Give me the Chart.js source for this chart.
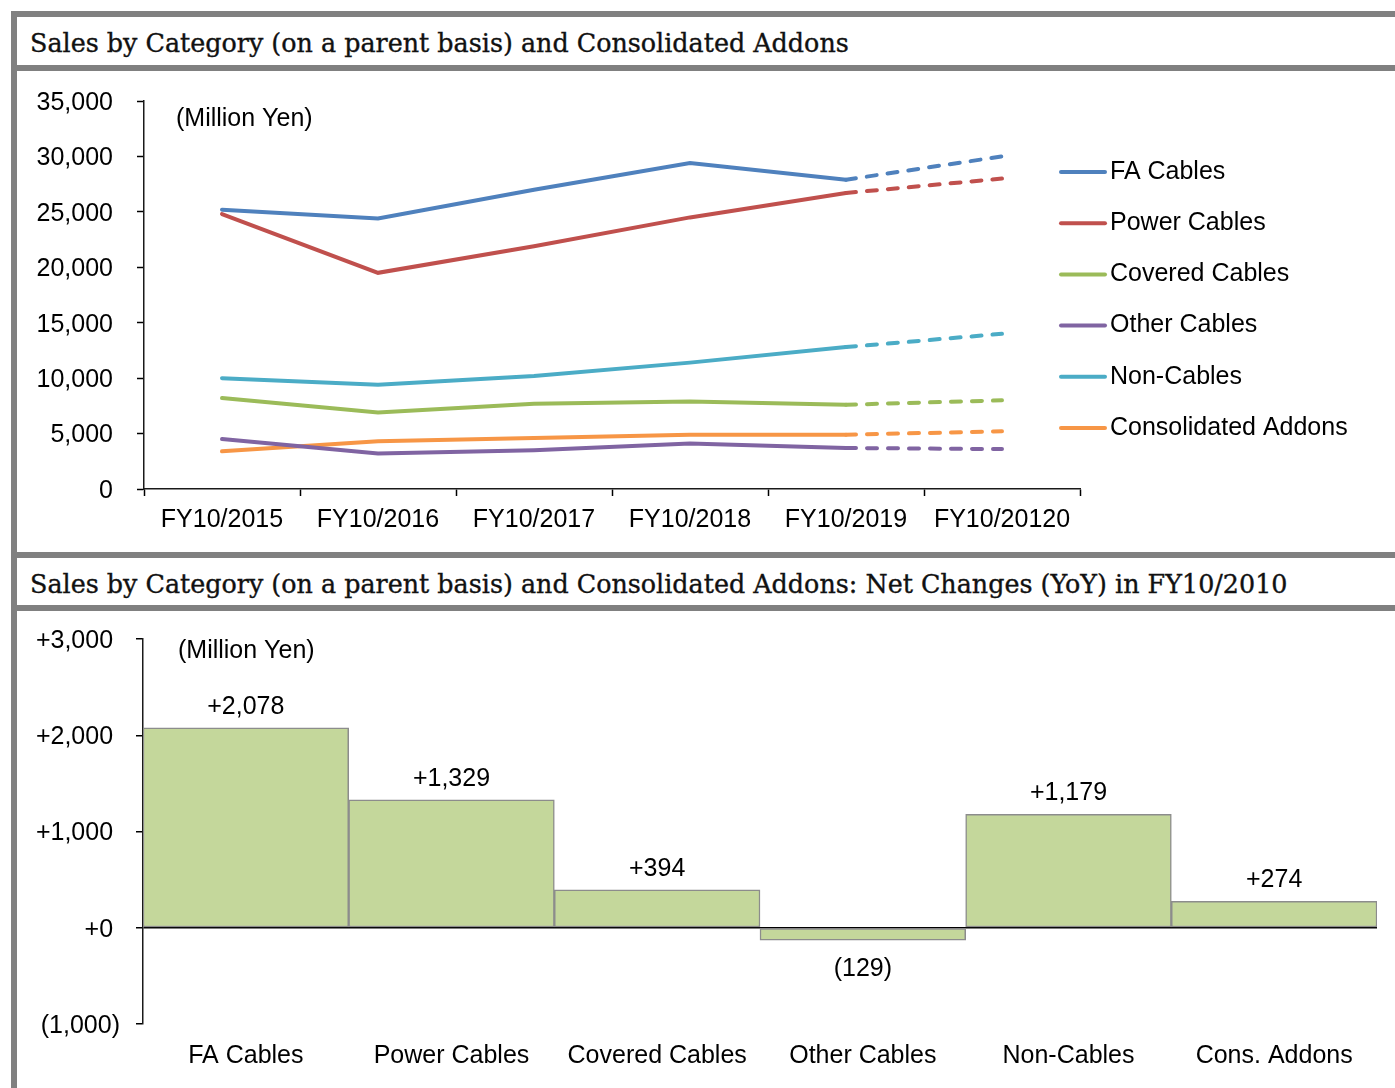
<!DOCTYPE html>
<html>
<head>
<meta charset="utf-8">
<script src="https://cdn.jsdelivr.net/npm/chart.js@4.4.1/dist/chart.umd.min.js"></script>
<style>
  html, body { margin:0; padding:0; background:#fff; }
  body { width:1395px; height:1088px; position:relative; overflow:hidden; }
  .bar { position:absolute; background:#808080; }
  .title { position:absolute; left:30px; font-family:"DejaVu Serif", "Liberation Serif", serif; font-size:25.4px; color:#111; white-space:nowrap; line-height:30px; -webkit-text-stroke:0.35px #111; }
  canvas { position:absolute; left:17px; }
</style>
</head>
<body>
  <div class="bar" style="left:11px;top:11px;width:1384px;height:6px"></div>
  <div class="bar" style="left:11px;top:11px;width:6px;height:1077px"></div>
  <div class="bar" style="left:17px;top:65px;width:1378px;height:6px"></div>
  <div class="bar" style="left:17px;top:552px;width:1378px;height:6px"></div>
  <div class="bar" style="left:17px;top:605px;width:1378px;height:6px"></div>

  <div class="title" id="t1" style="top:28px">Sales by Category (on a parent basis) and Consolidated Addons</div>
  <div class="title" id="t2" style="top:569px">Sales by Category (on a parent basis) and Consolidated Addons: Net Changes (YoY) in FY10/2010</div>

  <canvas id="lineChart" width="1378" height="481" style="top:71px"></canvas>
  <canvas id="barChart" width="1378" height="477" style="top:611px"></canvas>

<script>
  "use strict";

  // top chart: sales by category (million yen)
  const years = ["FY10/2015","FY10/2016","FY10/2017","FY10/2018","FY10/2019","FY10/20120"];
  const faCables      = [25200, 24400, 27000, 29400, 27900, 30000];
  const powerCables   = [24800, 19500, 21900, 24500, 26700, 28000];
  const coveredCables = [8200, 6900, 7700, 7900, 7600, 8000];
  const otherCables   = [4500, 3200, 3500, 4100, 3700, 3600];
  const nonCables     = [10000, 9400, 10200, 11400, 12800, 14000];
  const consAddons    = [3400, 4300, 4600, 4900, 4900, 5200];
  const seriesNames   = ["FA Cables","Power Cables","Covered Cables","Other Cables","Non-Cables","Consolidated Addons"];
  const seriesColors  = ["#4F81BD","#C0504D","#9BBB59","#8064A2","#4BACC6","#F79646"];

  // bottom chart: net changes (yoy)
  const changeCats   = ["FA Cables","Power Cables","Covered Cables","Other Cables","Non-Cables","Cons. Addons"];
  const changeValues = [2078, 1329, 394, -129, 1179, 274];

  const FONT = "'Liberation Sans', Arial, sans-serif";
  const fmt = (v)=> Math.abs(v).toLocaleString("en-US");
  const signed = (v)=> v < 0 ? "(" + fmt(v) + ")" : "+" + fmt(v);

  Chart.defaults.font.family = FONT;
  Chart.defaults.font.size = 25;
  Chart.defaults.color = "#000";

  const lastIdx = years.length - 1;
  const seriesData = [faCables, powerCables, coveredCables, otherCables, nonCables, consAddons];

  // fixed axis width, and no extra label overflow padding (layout padding decides the plot box)
  const fixWidth = (w)=> (s)=>{ s.width = w; s.paddingTop = 0; s.paddingBottom = 0; };

  const lineExtras = {
    id: "lineExtras",
    afterDraw(chart){
      const {ctx, chartArea} = chart;
      ctx.save();
      ctx.font = "25px " + FONT;
      ctx.fillStyle = "#000";
      ctx.textBaseline = "middle";
      ctx.fillText("(Million Yen)", 159, 48);
      // legend
      const x0 = chartArea.right - 19;
      const midY = (chartArea.top + chartArea.bottom) / 2 + 5;
      seriesNames.forEach((name, i)=>{
        const y = midY + (i - 2.5) * 51.2;
        ctx.strokeStyle = seriesColors[i];
        ctx.lineWidth = 4;
        ctx.lineCap = "round";
        ctx.beginPath();
        ctx.moveTo(x0, y);
        ctx.lineTo(x0 + 44, y);
        ctx.stroke();
        ctx.fillText(name, x0 + 49, y);
      });
      ctx.restore();
    }
  };

  new Chart(document.getElementById("lineChart"), {
    type: "line",
    data: {
      labels: years,
      datasets: seriesData.map((d, i)=>({
        label: seriesNames[i],
        data: d,
        borderColor: seriesColors[i],
        backgroundColor: seriesColors[i],
        borderWidth: 4,
        borderCapStyle: "round",
        pointRadius: 0,
        tension: 0,
        segment: { borderDash: (c)=> c.p1DataIndex === lastIdx ? [10, 11] : undefined }
      }))
    },
    options: {
      responsive: false,
      animation: false,
      devicePixelRatio: 1,
      layout: { padding: { left: 0, top: 30, right: 315, bottom: 13 } },
      plugins: { legend: { display: false }, tooltip: { enabled: false } },
      scales: {
        x: {
          offset: true,
          grid: { offset: true, drawOnChartArea: false, color: "#000", tickLength: 7, tickWidth: 1.5 },
          border: { color: "#1a1a1a", width: 1.5 },
          ticks: { padding: 9, maxRotation: 0, autoSkip: false },
          afterFit(s){ s.height = 50; }
        },
        y: {
          min: 0, max: 35000,
          grid: { drawOnChartArea: false, color: "#000", tickLength: 7, tickWidth: 1.5 },
          border: { color: "#1a1a1a", width: 1.5 },
          ticks: { stepSize: 5000, padding: 24, labelOffset: 2, callback: (v)=> fmt(v) },
          afterFit: fixWidth(127)
        }
      }
    },
    plugins: [lineExtras]
  });

  const barExtras = {
    id: "barExtras",
    afterDraw(chart){
      const {ctx} = chart;
      const meta = chart.getDatasetMeta(0);
      ctx.save();
      ctx.font = "25px " + FONT;
      ctx.fillStyle = "#000";
      ctx.textBaseline = "middle";
      ctx.fillText("(Million Yen)", 161, 40);
      ctx.textAlign = "center";
      meta.data.forEach((el, i)=>{
        const v = changeValues[i];
        const y = v >= 0 ? el.y - 21 : el.y + 29;
        ctx.fillText(signed(v), el.x, y);
      });
      ctx.restore();
    }
  };

  new Chart(document.getElementById("barChart"), {
    type: "bar",
    data: {
      labels: changeCats,
      datasets: [{
        data: changeValues,
        backgroundColor: "#C4D79B",
        borderColor: "#8c8c8c",
        borderWidth: 1.5,
        borderSkipped: false,
        barPercentage: 1,
        categoryPercentage: 1
      }]
    },
    options: {
      responsive: false,
      animation: false,
      devicePixelRatio: 1,
      layout: { padding: { left: 0, top: 28, right: 18, bottom: 14 } },
      plugins: { legend: { display: false }, tooltip: { enabled: false } },
      scales: {
        x: {
          grid: { display: false, drawTicks: false },
          border: { display: false },
          ticks: { padding: 17, maxRotation: 0, autoSkip: false },
          afterFit(s){ s.height = 50; }
        },
        y: {
          z: 1,
          min: -1000, max: 3000,
          grid: {
            color: (c)=> c.tick && c.tick.value === 0 ? "#000" : "rgba(0,0,0,0)",
            lineWidth: 1.5,
            tickColor: "#000",
            tickLength: 7,
            tickWidth: 1.5
          },
          border: { color: "#1a1a1a", width: 1.5 },
          ticks: { stepSize: 1000, padding: 16, labelOffset: 2, callback: (v)=> v < 0 ? signed(v) : signed(v) + " " },
          afterFit: fixWidth(126)
        }
      }
    },
    plugins: [barExtras]
  });
</script>
</body>
</html>
